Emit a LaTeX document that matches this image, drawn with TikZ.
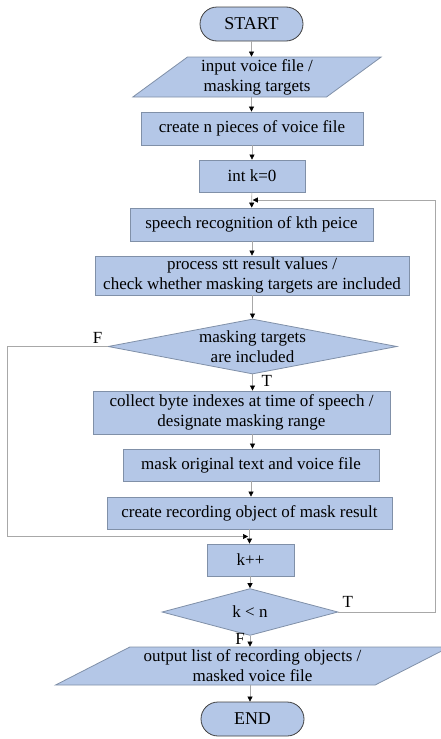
\documentclass[tikz,border=0pt]{standalone}
\usepackage{fontspec}
\setmainfont{Liberation Serif}
\usetikzlibrary{calc,shapes.geometric,shapes.misc,arrows.meta}
\definecolor{azulcaixa}{HTML}{B4C7E7}
\definecolor{bordacaixa}{HTML}{8090A8}
\definecolor{bordafim}{HTML}{404040}
\definecolor{linhaseta}{HTML}{A8A8A8}

\begin{document}
\begin{tikzpicture}[x=1pt,y=-1pt,
    caixa/.style={draw=bordacaixa,line width=0.8pt,fill=azulcaixa,minimum height=32,
      inner sep=0,align=center,font=\fontsize{17}{20}\selectfont},
    terminal/.style={caixa,rounded rectangle,draw=bordafim,minimum width=103,
      minimum height=34,font=\fontsize{18}{20}\selectfont},
    dados/.style 2 args={caixa,trapezium,trapezium stretches=true,
      trapezium left angle=#1,trapezium right angle=#2},
    decisao/.style={caixa,diamond},
    seta/.style={draw=linhaseta,line width=0.6pt,-{Triangle[black,length=5,width=5]}},
    rotulo/.style={inner sep=0,align=center,font=\fontsize{17}{20}\selectfont}]
  \useasboundingbox (0,0) rectangle (441,739);
  % caixas do fluxo
  \node[terminal] (inicio) at (251.5,24) {START};
  \node[dados={39}{141},minimum width=249,minimum height=40] (entrada) at (257,77)
    {input voice file /\\masking targets};
  \node[caixa,minimum width=222,minimum height=33] (pedacos) at (252,128.5)
    {create n pieces of voice file};
  \node[caixa,minimum width=106] (contador) at (252,176) {int k=0};
  \node[caixa,minimum width=243,minimum height=33] (reconhece) at (251.5,224.5)
    {speech recognition of kth peice};
  \node[caixa,minimum width=314,minimum height=39] (processa) at (252,275.5)
    {process stt result values /\\check whether masking targets are included};
  \node[decisao,minimum width=289,minimum height=55] (incluido) at (252.5,346.5) {};
  \node[rotulo] (textoincluido) at (incluido) {masking targets\\are included};
  \node[caixa,minimum width=297,minimum height=43] (indices) at (241.5,412.5)
    {collect byte indexes at time of speech /\\designate masking range};
  \node[caixa,minimum width=256] (mascara) at (251,465) {mask original text and voice file};
  \node[caixa,minimum width=285] (registro) at (249.5,513) {create recording object of mask result};
  \node[caixa,minimum width=87] (incrementa) at (250.5,560) {k++};
  \node[decisao,minimum width=176,minimum height=40] (compara) at (250,612) {k < n};
  \node[dados={26}{154},minimum width=395,minimum height=38] (saida) at (252.5,666)
    {output list of recording objects /\\masked voice file};
  \node[terminal] (fim) at (252.5,719) {END};
  % pontos de juncao
  \coordinate (juncaoT) at ($(contador.south)!0.5!(reconhece.north)+(1,0)$);
  \coordinate (juncaoF) at ($(registro.south)!0.5!(incrementa.north)+(-2,0)$);
  % setas
  \draw[seta] (inicio.south) -- (inicio.south |- entrada.north);
  \draw[seta] (inicio.south |- entrada.south) -- (inicio.south |- pedacos.north);
  \draw[seta] (pedacos) -- (contador);
  \draw[seta] (contador) -- (reconhece);
  \draw[seta] (reconhece.south -| processa) -- (processa);
  \draw[seta] (processa.south -| incluido) -- (incluido);
  \draw[seta] (incluido.south) -- (incluido.south |- indices.north);
  \draw[seta] (incluido.south |- indices.south) -- (incluido.south |- mascara.north);
  \draw[seta] (mascara) -- (mascara |- registro.north);
  \draw[seta] (registro) -- (registro |- incrementa.north);
  \draw[seta] (compara.north |- incrementa.south) -- (compara);
  \draw[seta] (compara.south) -- (compara.south |- saida.north);
  \draw[seta] (compara.south |- saida.south) -- (compara.south |- fim.north);
  % lacos
  \draw[seta] (compara.east) -- ++(97,0) |- (juncaoT);
  \draw[seta] (incluido.west) -- ++(-100,0) |- (juncaoF);
  % rotulos T e F
  \node[rotulo,anchor=south east,xshift=-5pt,yshift=3pt] (falso1) at (incluido.west) {F};
  \node[rotulo,anchor=north west,xshift=9pt,yshift=-1pt] (verdade1) at (incluido.south) {T};
  \node[rotulo,anchor=south west,xshift=4pt,yshift=4pt] (verdade2) at (compara.east) {T};
  \node[rotulo,anchor=north east,xshift=-5pt,yshift=3pt] (falso2) at (compara.south) {F};
\end{tikzpicture}
\end{document}
